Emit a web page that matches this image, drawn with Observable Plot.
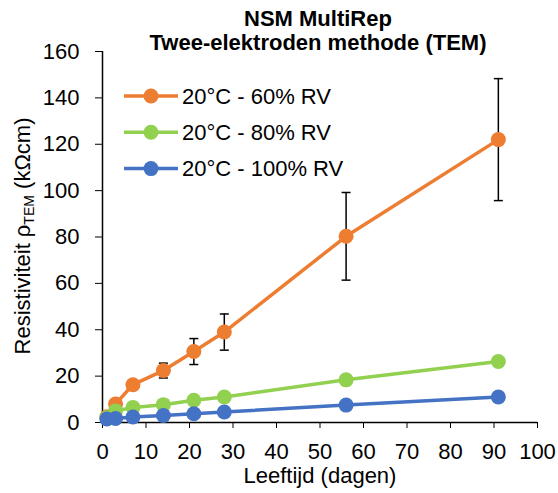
<!DOCTYPE html>
<html>
<head>
<meta charset="utf-8">
<script src="https://cdn.jsdelivr.net/npm/d3@7"></script>
<script src="https://cdn.jsdelivr.net/npm/@observablehq/plot@0.6"></script>
<style>
  html, body { margin: 0; padding: 0; background: #fff; }
</style>
</head>
<body>
<div id="chart"></div>
<script>
const titleLines = ["NSM MultiRep", "Twee-elektroden methode (TEM)"];
const xLabel = "Leeftijd (dagen)";
const yLabelMain = "Resistiviteit ρ";
const yLabelSub = "TEM";
const yLabelUnit = " (kΩcm)";

const days = [1, 3, 7, 14, 21, 28, 56, 91];
const seriesNames = ["20°C - 60% RV", "20°C - 80% RV", "20°C - 100% RV"];
const seriesColors = ["#ED7D31", "#92D050", "#4472C4"];
const rv60 = [2.5, 8.0, 16.3, 22.4, 30.6, 39.0, 80.3, 122.0];
const rv60err = [0.3, 0.6, 1.2, 3.2, 5.6, 7.8, 18.9, 26.3];
const rv80 = [2.0, 5.0, 6.5, 7.7, 9.6, 11.0, 18.4, 26.3];
const rv100 = [1.5, 1.7, 2.4, 3.0, 3.8, 4.5, 7.5, 11.0];

const xTicks = [0, 10, 20, 30, 40, 50, 60, 70, 80, 90, 100];
const yTicks = [0, 20, 40, 60, 80, 100, 120, 140, 160];

const FONT = "'Liberation Sans', Arial, sans-serif";
const seriesValues = [rv60, rv80, rv100];
const series = seriesNames.map((name, i) => days.map((d, j) => ({ day: d, value: seriesValues[i][j], name })));
const errData = days.map((d, j) => ({ day: d, lo: rv60[j] - rv60err[j], hi: rv60[j] + rv60err[j] }));

const capSymbol = {
  draw(context) {
    context.moveTo(-4.5, 0);
    context.lineTo(4.5, 0);
  }
};

const marks = [
  Plot.axisX({ ticks: xTicks, tickSize: 6, tickPadding: 15, fontSize: 22, label: null, tickFormat: d => String(d) }),
  Plot.axisY({ ticks: yTicks, tickSize: 7, tickPadding: 16, fontSize: 22, label: null, tickFormat: d => String(d) }),
  Plot.ruleX([0], { stroke: "#000", strokeWidth: 1.5 }),
  Plot.ruleY([0], { stroke: "#000", strokeWidth: 1.5 })
];
series.forEach((s, i) => {
  marks.push(Plot.line(s, { x: "day", y: "value", stroke: seriesColors[i], strokeWidth: 3.5 }));
  if (i === 0) {
    marks.push(Plot.ruleX(errData, { x: "day", y1: "lo", y2: "hi", stroke: "#000", strokeWidth: 1.5 }));
    marks.push(Plot.dot(errData, { x: "day", y: "lo", symbol: capSymbol, stroke: "#000", strokeWidth: 1.5, fill: "none", r: 4 }));
    marks.push(Plot.dot(errData, { x: "day", y: "hi", symbol: capSymbol, stroke: "#000", strokeWidth: 1.5, fill: "none", r: 4 }));
  }
  marks.push(Plot.dot(s, { x: "day", y: "value", fill: seriesColors[i], r: 7.5 }));
});

const chart = Plot.plot({
  width: 558,
  height: 493,
  marginLeft: 102,
  marginRight: 21,
  marginTop: 51,
  marginBottom: 71,
  style: { fontFamily: FONT, color: "#000", background: "#fff" },
  x: { domain: [0, 100] },
  y: { domain: [0, 160] },
  marks
});

const svg = d3.select(chart);

// title
svg.append("text")
  .attr("x", 318).attr("y", 26)
  .attr("text-anchor", "middle")
  .attr("font-family", FONT).attr("font-size", 22).attr("font-weight", "bold")
  .attr("fill", "#000")
  .text(titleLines[0]);
svg.append("text")
  .attr("x", 318).attr("y", 50)
  .attr("text-anchor", "middle")
  .attr("font-family", FONT).attr("font-size", 22).attr("font-weight", "bold")
  .attr("fill", "#000")
  .text(titleLines[1]);

// x label
svg.append("text")
  .attr("x", 320).attr("y", 483)
  .attr("text-anchor", "middle")
  .attr("font-family", FONT).attr("font-size", 22)
  .attr("fill", "#000")
  .text(xLabel);

// y label
const yl = svg.append("text")
  .attr("transform", "translate(30,236) rotate(-90)")
  .attr("text-anchor", "middle")
  .attr("font-family", FONT).attr("font-size", 22)
  .attr("fill", "#000");
yl.append("tspan").text(yLabelMain);
yl.append("tspan").attr("font-size", 14).attr("dy", 4).text(yLabelSub);
yl.append("tspan").attr("dy", -4).text(yLabelUnit);

// legend
seriesNames.forEach((name, i) => {
  const y = 96 + i * 36.3;
  const g = svg.append("g");
  g.append("line").attr("x1", 124).attr("x2", 178).attr("y1", y).attr("y2", y)
    .attr("stroke", seriesColors[i]).attr("stroke-width", 3.5);
  g.append("circle").attr("cx", 151).attr("cy", y).attr("r", 7.5).attr("fill", seriesColors[i]);
  g.append("text").attr("x", 182).attr("y", y).attr("dy", "0.35em")
    .attr("text-anchor", "start")
    .attr("font-family", FONT).attr("font-size", 22).attr("fill", "#000")
    .text(name);
});

document.getElementById("chart").appendChild(chart);
</script>
</body>
</html>
